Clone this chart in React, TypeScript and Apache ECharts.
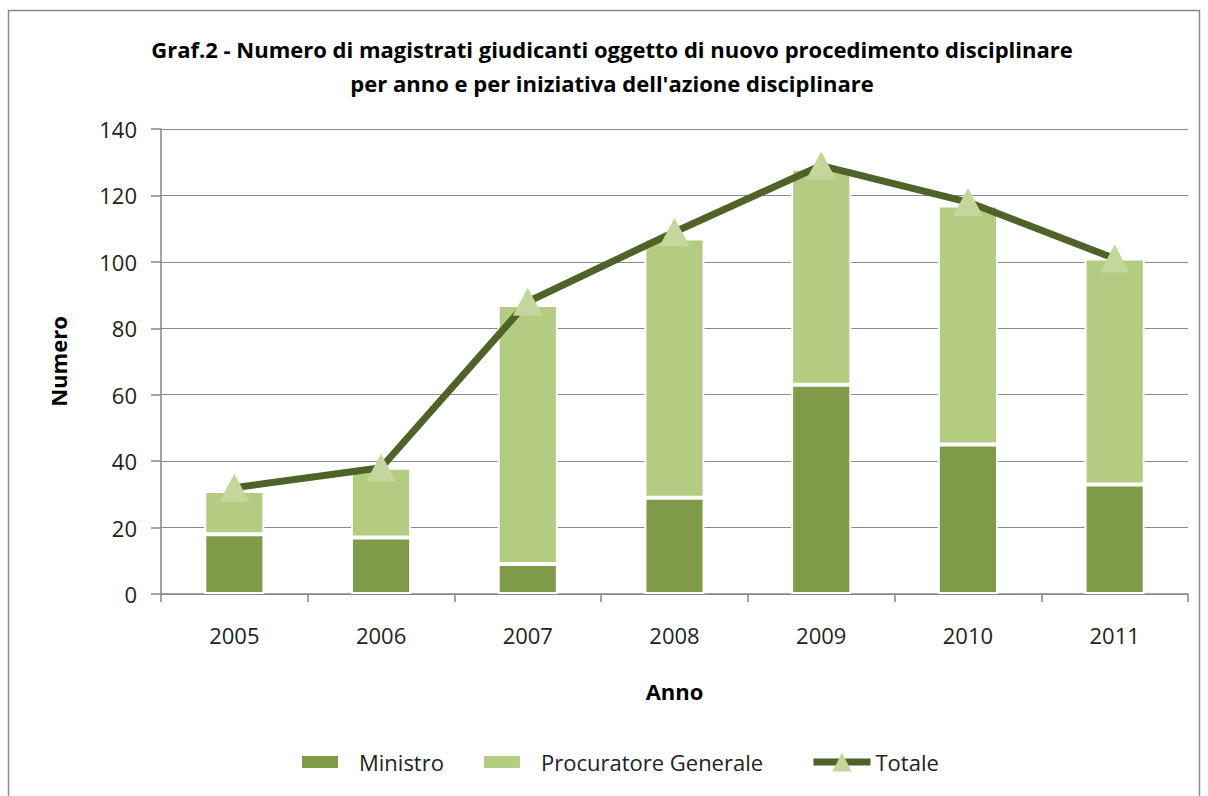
import React, { useEffect, useRef } from "react";
import * as echarts from "echarts";

const categories = ["2005", "2006", "2007", "2008", "2009", "2010", "2011"];
const ministro = [18, 17, 9, 29, 63, 45, 33];
const procuratore = [13, 21, 78, 78, 65, 72, 68];
const totale = [32, 38, 88, 109, 129, 118, 101];
const yTicks = { min: 0, max: 140, interval: 20 };

const FONT = "'Open Sans', 'Noto Sans', sans-serif";

export default function App() {
  const ref = useRef<HTMLDivElement>(null);
  useEffect(() => {
    if (!ref.current) return;
    const chart = echarts.init(ref.current, undefined, { renderer: "svg" });
    const legendText = { fontFamily: FONT, fontSize: 22, color: "#222", padding: [0, 0, 0, 14] };
    chart.setOption({
      animation: false,
      backgroundColor: "#ffffff",
      textStyle: { fontFamily: FONT },
      title: {
        text: "Graf.2 - Numero di magistrati giudicanti oggetto di nuovo procedimento disciplinare\nper anno e per iniziativa dell'azione disciplinare",
        left: 607,
        textAlign: "center",
        top: 27,
        textStyle: {
          fontFamily: FONT,
          fontSize: 22,
          fontWeight: "bold",
          color: "#000000",
          lineHeight: 34,
        },
      },
      graphic: [
        {
          type: "rect",
          shape: { x: 8.5, y: 10.5, width: 1191, height: 800 },
          style: { fill: "none", stroke: "#8a8a8a", lineWidth: 1.5 },
          silent: true,
        },
      ],
      grid: { left: 161, right: 20, top: 129, bottom: 202, containLabel: false },
      legend: [
        {
          bottom: 18,
          left: 295,
          itemGap: 38,
          itemWidth: 38,
          itemHeight: 14,
          textStyle: { ...legendText, padding: [0, 0, 0, 15] },
          data: [
            { name: "Ministro", icon: "rect" },
            { name: "Procuratore Generale", icon: "rect" },
          ],
        },
        {
          bottom: 18,
          left: 805,
          itemWidth: 57,
          itemHeight: 24,
          lineStyle: { width: 7 },
          textStyle: { ...legendText, padding: [0, 0, 0, 0] },
          data: [{ name: "Totale" }],
        },
      ],
      xAxis: {
        type: "category",
        data: categories,
        name: "Anno",
        nameLocation: "middle",
        nameGap: 86,
        nameTextStyle: { fontFamily: FONT, fontSize: 22, fontWeight: "bold", color: "#000" },
        axisLine: { lineStyle: { color: "#868686", width: 1.5 } },
        axisTick: { show: true, length: 8, lineStyle: { color: "#868686", width: 1.5 } },
        axisLabel: { fontFamily: FONT, fontSize: 22, color: "#222", margin: 30 },
      },
      yAxis: {
        type: "value",
        min: yTicks.min,
        max: yTicks.max,
        interval: yTicks.interval,
        name: "Numero",
        nameLocation: "middle",
        nameGap: 92,
        nameRotate: 90,
        nameTextStyle: { fontFamily: FONT, fontSize: 22, fontWeight: "bold", color: "#000" },
        axisLine: { show: true, lineStyle: { color: "#868686", width: 1.5 } },
        axisTick: { show: true, length: 10, lineStyle: { color: "#868686", width: 1.5 } },
        axisLabel: { fontFamily: FONT, fontSize: 22, color: "#222", margin: 24 },
        splitLine: { lineStyle: { color: "#8c8c8c", width: 1.2 } },
      },
      series: [
        {
          name: "Ministro",
          type: "bar",
          stack: "tot",
          data: ministro,
          barWidth: "41%",
          itemStyle: { color: "#7f9a48", borderColor: "#ffffff", borderWidth: 2 },
        },
        {
          name: "Procuratore Generale",
          type: "bar",
          stack: "tot",
          data: procuratore,
          barWidth: "41%",
          itemStyle: { color: "#b3cc82", borderColor: "#ffffff", borderWidth: 2 },
        },
        {
          name: "Totale",
          type: "line",
          data: totale,
          symbol: "triangle",
          symbolSize: [30, 28],
          lineStyle: { color: "#4f6228", width: 7 },
          itemStyle: { color: "#c3d69b", borderWidth: 0 },
          z: 5,
        },
      ],
    });
    return () => chart.dispose();
  }, []);
  return (
    <div
      ref={ref}
      style={{ position: "fixed", left: 0, top: 0, width: 1208, height: 796 }}
    />
  );
}
